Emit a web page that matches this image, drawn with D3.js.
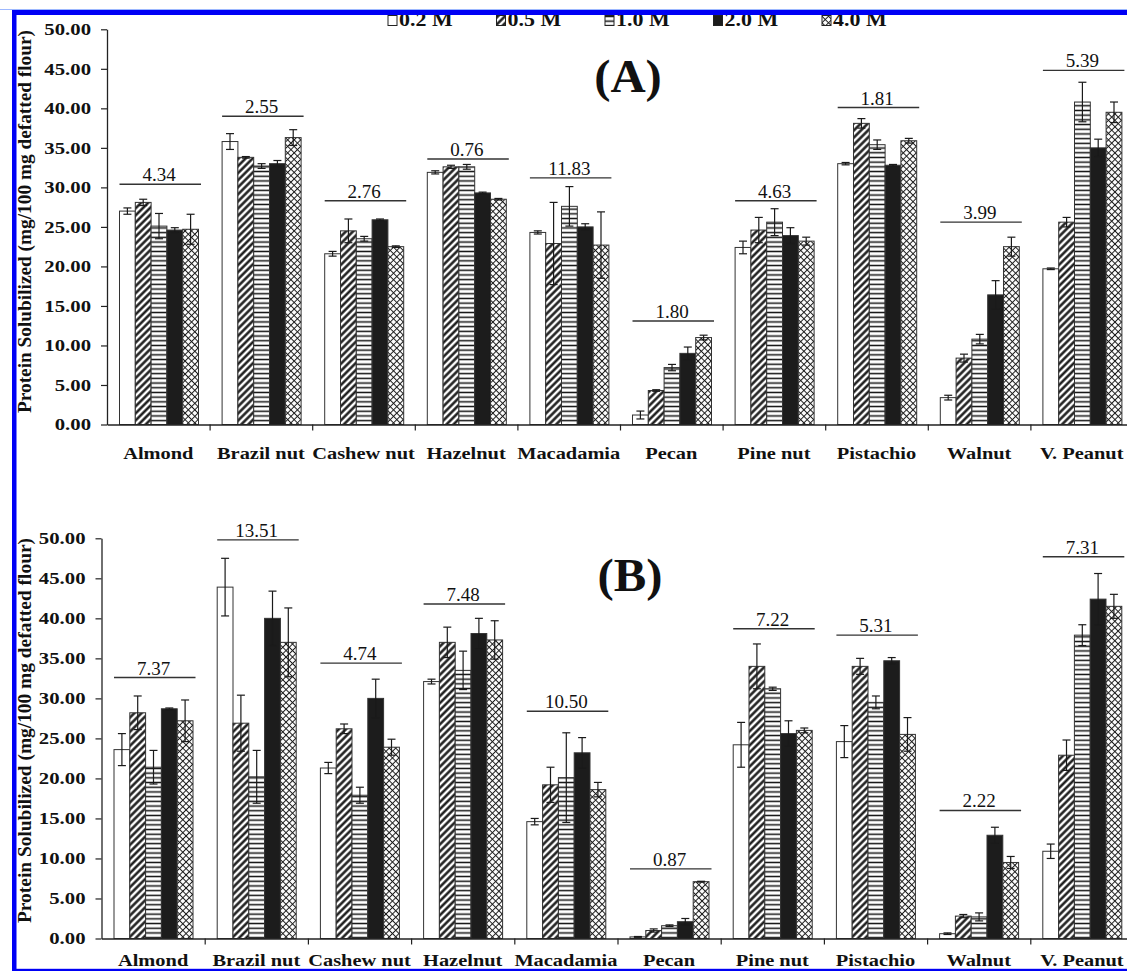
<!DOCTYPE html>
<html><head><meta charset="utf-8">
<script src="https://cdn.jsdelivr.net/npm/d3@7"></script>
<style>body{margin:0;background:#fff}svg{display:block}</style>
</head><body>
<script>
// ---------- DATA ----------
const categories = ["Almond","Brazil nut","Cashew nut","Hazelnut","Macadamia","Pecan","Pine nut","Pistachio","Walnut","V. Peanut"];
const seriesNames = ["0.2 M","0.5 M","1.0 M","2.0 M","4.0 M"];
const yTicks = [0,5,10,15,20,25,30,35,40,45,50];

// Panel A (mean values per concentration)
const a02 = [27.0, 35.8, 21.6, 31.9, 24.3, 1.2, 22.4, 33.0, 3.4, 19.7];
const a05 = [28.1, 33.8, 24.5, 32.6, 22.9, 4.3, 24.6, 38.1, 8.4, 25.6];
const a10 = [25.1, 32.7, 23.5, 32.6, 27.6, 7.2, 25.6, 35.4, 10.8, 40.8];
const a20 = [24.6, 33.0, 25.9, 29.3, 25.0, 9.0, 23.9, 32.8, 16.4, 35.0];
const a40 = [24.7, 36.3, 22.5, 28.5, 22.7, 11.0, 23.2, 35.9, 22.5, 39.5];
// Panel A errors
const ea02 = [0.4, 1.0, 0.3, 0.2, 0.2, 0.5, 0.8, 0.15, 0.3, 0.1];
const ea05 = [0.4, 0.1, 1.5, 0.2, 5.2, 0.1, 1.6, 0.6, 0.5, 0.6];
const ea10 = [1.6, 0.3, 0.3, 0.3, 2.5, 0.4, 1.7, 0.6, 0.6, 2.5];
const ea20 = [0.3, 0.4, 0.1, 0.1, 0.4, 0.8, 1.0, 0.1, 1.8, 1.1];
const ea40 = [1.9, 1.0, 0.1, 0.1, 4.2, 0.3, 0.5, 0.3, 1.2, 1.3];
// Panel A LSD labels and their level
const sigTextA  = ["4.34","2.55","2.76","0.76","11.83","1.80","4.63","1.81","3.99","5.39"];
const sigLevelA = [30.4, 39.0, 28.3, 33.6, 31.2, 13.1, 28.3, 40.1, 25.6, 44.8];

// Panel B
const b02 = [23.6, 43.9, 21.3, 32.1, 14.6, 0.2, 24.2, 24.6, 0.6, 10.9];
const b05 = [28.2, 26.9, 26.2, 37.0, 19.2, 1.0, 34.0, 34.0, 2.8, 22.9];
const b10 = [21.4, 20.2, 17.9, 33.5, 20.1, 1.6, 31.2, 29.5, 2.7, 37.9];
const b20 = [28.7, 40.0, 30.0, 38.1, 23.2, 2.1, 25.6, 34.7, 12.9, 42.4];
const b40 = [27.2, 37.0, 23.9, 37.3, 18.6, 7.1, 26.0, 25.5, 9.5, 41.5];
const eb02 = [2.0, 3.6, 0.7, 0.3, 0.4, 0.05, 2.8, 2.0, 0.1, 0.9];
const eb05 = [2.1, 3.5, 0.6, 1.9, 2.2, 0.2, 2.8, 1.0, 0.2, 1.9];
const eb10 = [2.1, 3.3, 1.0, 2.4, 5.6, 0.1, 0.2, 0.8, 0.5, 1.3];
const eb20 = [0.1, 3.4, 2.4, 1.9, 1.9, 0.4, 1.6, 0.4, 1.0, 3.2];
const eb40 = [2.6, 4.3, 1.0, 2.4, 0.9, 0.05, 0.3, 2.1, 0.75, 1.5];
const sigTextB  = ["7.37","13.51","4.74","7.48","10.50","0.87","7.22","5.31","2.22","7.31"];
const sigLevelB = [32.6, 49.8, 34.4, 41.8, 28.4, 8.7, 38.7, 37.9, 16.0, 47.7];

const yTitle = "Protein Solubilized (mg/100 mg defatted flour)";

// ---------- DRAW ----------
const W = 1127, H = 971;
const serif = "'Liberation Serif','Times New Roman',serif";
const svg = d3.select("body").append("svg").attr("width", W).attr("height", H);
svg.append("rect").attr("width", W).attr("height", H).attr("fill", "#fff");
const defs = svg.append("defs");

// hatch "/"
const ph = defs.append("pattern").attr("id","p-hatch").attr("patternUnits","userSpaceOnUse")
  .attr("width",5).attr("height",5).attr("patternTransform","rotate(45)");
ph.append("rect").attr("width",5).attr("height",5).attr("fill","#fff");
ph.append("line").attr("x1",2.5).attr("y1",-1).attr("x2",2.5).attr("y2",6).attr("stroke","#111").attr("stroke-width",2.4);
// horizontal lines
const pl = defs.append("pattern").attr("id","p-hline").attr("patternUnits","userSpaceOnUse")
  .attr("width",10).attr("height",4.7);
pl.append("rect").attr("width",10).attr("height",4.7).attr("fill","#fff");
pl.append("line").attr("x1",-1).attr("y1",2.35).attr("x2",11).attr("y2",2.35).attr("stroke","#111").attr("stroke-width",1.5);
// cross hatch
const pc = defs.append("pattern").attr("id","p-cross").attr("patternUnits","userSpaceOnUse")
  .attr("width",4.6).attr("height",4.6).attr("patternTransform","rotate(45)");
pc.append("rect").attr("width",4.6).attr("height",4.6).attr("fill","#fff");
pc.append("line").attr("x1",2.3).attr("y1",-1).attr("x2",2.3).attr("y2",5.6).attr("stroke","#1a1a1a").attr("stroke-width",1.0);
pc.append("line").attr("x1",-1).attr("y1",2.3).attr("x2",5.6).attr("y2",2.3).attr("stroke","#1a1a1a").attr("stroke-width",1.0);

const fills = ["#fff","url(#p-hatch)","url(#p-hline)","#1c1c1c","url(#p-cross)"];

function panel(o){
  const y = d3.scaleLinear().domain([0,50]).range([o.y0, o.y50]);
  const x0 = d3.scaleBand().domain(categories).range([o.xL, o.xL + 10*o.step]).padding(0);
  const x1 = d3.scaleBand().domain(seriesNames).range([12.5, 91.5]).padding(0);
  const g = svg.append("g");

  const grp = g.selectAll("g.grp").data(categories).join("g").attr("class","grp")
    .attr("transform", d => `translate(${x0(d)},0)`);
  const items = (c,i) => seriesNames.map((s,j) => ({s, j, v:o.vals[j][i], e:o.errs[j][i]}));
  grp.selectAll("rect").data(items).join("rect")
    .attr("x", d => x1(d.s)).attr("y", d => y(d.v))
    .attr("width", x1.bandwidth()).attr("height", d => y(0) - y(d.v))
    .attr("fill", d => fills[d.j]).attr("stroke", "#333").attr("stroke-width", 1);
  const eb = grp.selectAll("g.err").data(items).join("g").attr("class","err")
    .attr("stroke","#1a1a1a").attr("stroke-width",1.2);
  const cx = d => x1(d.s) + x1.bandwidth()/2;
  eb.append("line").attr("x1",cx).attr("x2",cx).attr("y1",d=>y(d.v+d.e)).attr("y2",d=>y(Math.max(0,d.v-d.e)));
  eb.append("line").attr("x1",d=>cx(d)-4).attr("x2",d=>cx(d)+4).attr("y1",d=>y(d.v+d.e)).attr("y2",d=>y(d.v+d.e));
  eb.append("line").attr("x1",d=>cx(d)-4).attr("x2",d=>cx(d)+4).attr("y1",d=>y(Math.max(0,d.v-d.e))).attr("y2",d=>y(Math.max(0,d.v-d.e)));

  // LSD lines
  grp.append("line").attr("x1",12.5).attr("x2",94).attr("y1",(c,i)=>y(o.sigLevel[i])).attr("y2",(c,i)=>y(o.sigLevel[i]))
    .attr("stroke","#333").attr("stroke-width",1.4);
  grp.append("text").attr("x",52).attr("y",(c,i)=>y(o.sigLevel[i]) - 3).attr("text-anchor","middle")
    .attr("font-family",serif).attr("font-size",19).attr("fill","#111").text((c,i)=>o.sigText[i]);

  // y axis
  const ya = d3.axisLeft(y).tickValues(yTicks).tickFormat(d3.format(".2f")).tickSize(6).tickSizeOuter(0);
  const yg = g.append("g").attr("transform",`translate(${o.xL},0)`).call(ya);
  yg.select(".domain").attr("stroke","#222").attr("stroke-width",1.3);
  yg.selectAll(".tick line").attr("stroke","#222").attr("stroke-width",1.2);
  yg.selectAll(".tick text").attr("font-family",serif).attr("font-weight","bold").attr("font-size",17)
    .attr("fill","#111").attr("x",-16/1.22).attr("transform","scale(1.22,1)");

  // x axis: line + boundary ticks
  const xb = d3.scaleLinear().domain([0,10]).range([o.xL, o.xL + 10*o.step]);
  const xg = g.append("g").attr("transform",`translate(0,${o.y0})`)
    .call(d3.axisBottom(xb).tickValues(d3.range(1,10)).tickFormat("").tickSize(6).tickSizeOuter(0));
  xg.select(".domain").attr("stroke","#222").attr("stroke-width",1.3);
  xg.selectAll(".tick line").attr("stroke","#222").attr("stroke-width",1.2);
  const xl = g.append("g").attr("transform",`translate(0,${o.y0})`)
    .call(d3.axisBottom(x0).tickSize(0).tickPadding(o.labelPad));
  xl.select(".domain").remove();
  xl.selectAll(".tick text").attr("font-family",serif).attr("font-weight","bold").attr("font-size",17)
    .attr("fill","#111").attr("transform","scale(1.2,1)");

  // y title
  g.append("text").attr("transform",`translate(31,${o.titleY}) scale(1.15,1) rotate(-90)`)
    .attr("text-anchor","middle").attr("font-family",serif).attr("font-weight","bold").attr("font-size",17)
    .attr("fill","#111").attr("textLength",o.titleLen).attr("lengthAdjust","spacingAndGlyphs").text(yTitle);

  // panel letter
  g.append("text").attr("transform",`translate(${o.letterX},${o.letterY}) scale(1.06,1)`)
    .attr("text-anchor","middle").attr("font-family",serif).attr("font-weight","bold").attr("font-size",46)
    .attr("fill","#111").text(o.letter);
}

panel({y0:424.5, y50:29.3, xL:107, step:102.6, labelPad:22.5,
  vals:[a02,a05,a10,a20,a40], errs:[ea02,ea05,ea10,ea20,ea40],
  sigText:sigTextA, sigLevel:sigLevelA, titleY:221.5, titleLen:383, letter:"(A)", letterX:628, letterY:92});
panel({y0:938.5, y50:538.3, xL:101.5, step:103.2, labelPad:15,
  vals:[b02,b05,b10,b20,b40], errs:[eb02,eb05,eb10,eb20,eb40],
  sigText:sigTextB, sigLevel:sigLevelB, titleY:730.5, titleLen:385, letter:"(B)", letterX:630, letterY:591});

// legend
const lg = svg.append("g").selectAll("g").data(seriesNames).join("g")
  .attr("transform",(d,i)=>`translate(${388 + i*108.5},0)`);
lg.append("rect").attr("x",0).attr("y",15.5).attr("width",9).attr("height",10)
  .attr("fill",(d,i)=>fills[i]).attr("stroke","#222").attr("stroke-width",1);
lg.append("text").attr("transform","translate(11,25.5) scale(1.22,1)").attr("font-family",serif)
  .attr("font-weight","bold").attr("font-size",18).attr("fill","#111").text(d=>d);

// blue frame
svg.append("rect").attr("x",0).attr("y",9).attr("width",W).attr("height",1).attr("fill","#9db8ff");
svg.append("rect").attr("x",12).attr("y",10).attr("width",W-12).attr("height",5).attr("fill","#0000f5");
svg.append("rect").attr("x",12).attr("y",10).attr("width",4.5).attr("height",H-10).attr("fill","#0000f5");
svg.append("rect").attr("x",12).attr("y",968.8).attr("width",W-12).attr("height",2.2).attr("fill","#0000f5");
</script>
</body></html>
